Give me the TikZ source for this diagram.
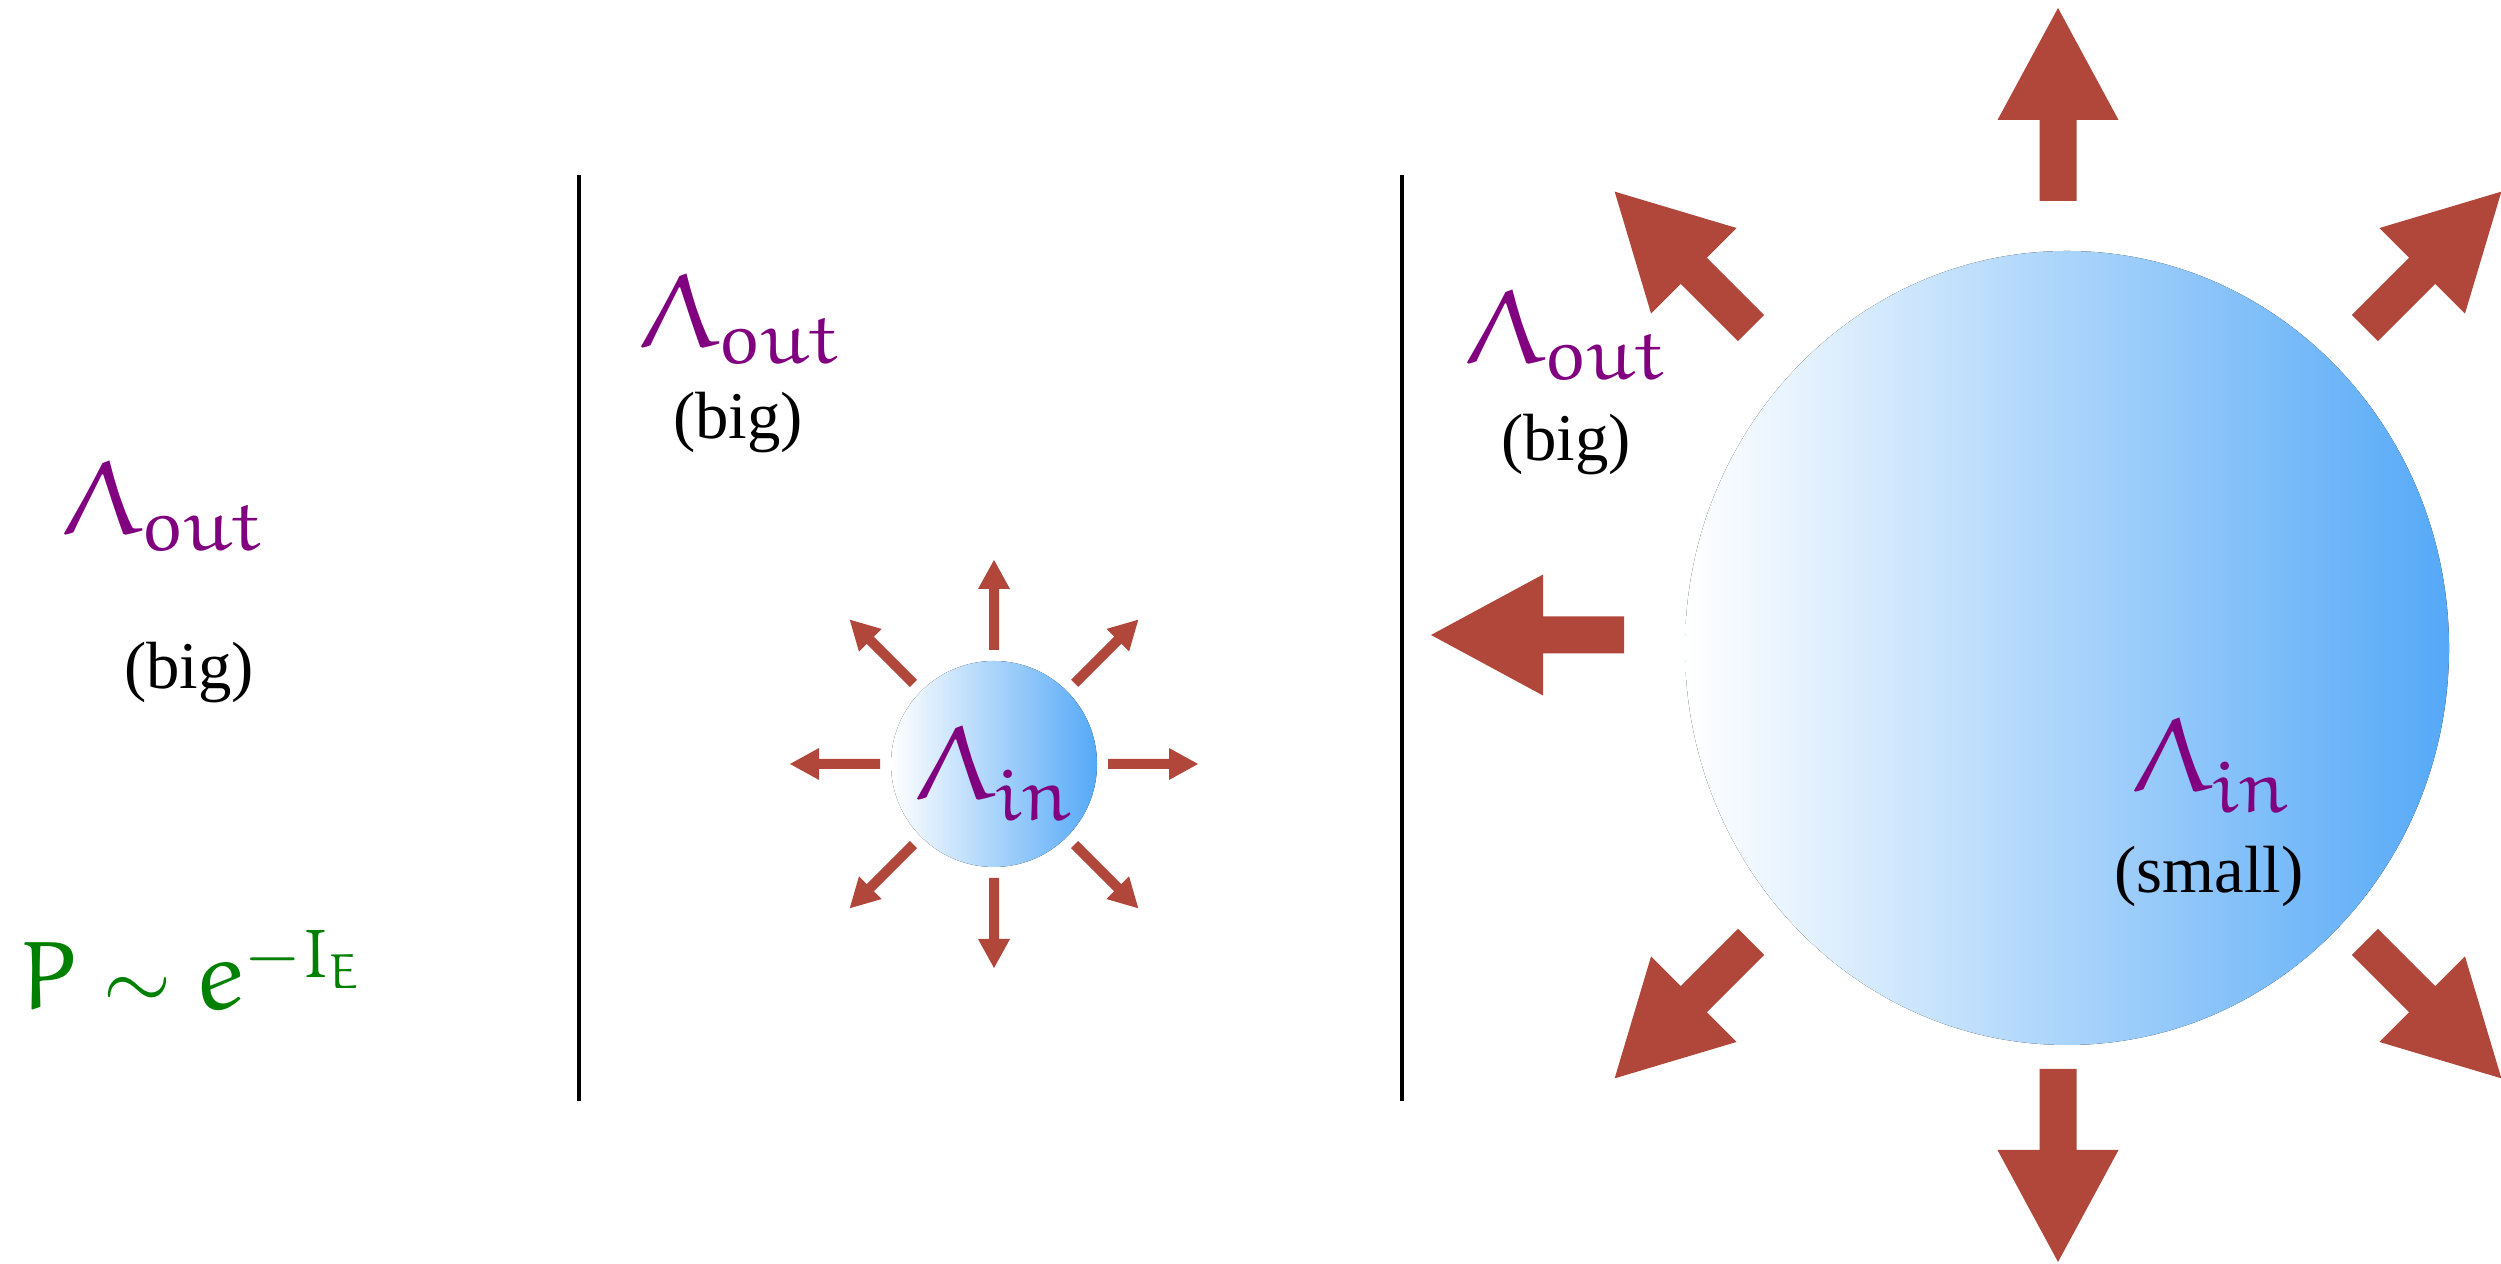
\documentclass[tikz,border=0pt]{standalone}
\usepackage[no-math]{fontspec}
\setmainfont{Liberation Serif}
\usepackage{tikz}
\DeclareFontFamily{U}{eulr}{}
\DeclareFontShape{U}{eulr}{m}{n}{<-> eurm10}{}
\DeclareMathAlphabet{\mathe}{U}{eulr}{m}{n}
\definecolor{lamcol}{HTML}{800080}
\definecolor{probcol}{HTML}{008000}
\definecolor{raycol}{HTML}{B0473A}
\definecolor{bubcol}{HTML}{55A9F7}
\tikzset{
  lamlab/.style={text=lamcol,inner sep=0pt,font=\fontsize{30}{36}\selectfont},
  notelab/.style={inner sep=0pt,font=\fontsize{19}{23}\selectfont},
  problab/.style={text=probcol,inner sep=0pt,font=\fontsize{28}{34}\selectfont},
  wall/.style={draw=black,line width=1.2pt},
  bubble/.style={left color=white,right color=bubcol,draw=none},
  ray/.style={fill=raycol,draw=none},
}
\begin{document}
\begin{tikzpicture}[x=0.1mm,y=0.1mm]
  \useasboundingbox (0,0) rectangle (2501,1264);
  \draw[wall] (579,163) -- (579,1089);
  \draw[wall] (1402,163) -- (1402,1089);
  \node[lamlab] (outL) at (163,758) {$\mathe{\Lambda_{out}}$};
  \node[notelab] (bigL) at (189,591) {(big)};
  \node[problab] (prob) at (191,294) {$\mathe{P}\sim\mathe{e}^{-\mathe{I_E}}$};
  \node[lamlab] (outM) at (740,945) {$\mathe{\Lambda_{out}}$};
  \node[notelab] (bigM) at (738,841) {(big)};
  \fill[bubble] (994,500) circle (103);
  \begin{scope}[shift={(994,500)}]
    \foreach \a in {0,45,...,315}
      \fill[ray,rotate=\a] (114,-5) -- (175,-5) -- (175,-16) -- (204,0) -- (175,16) -- (175,5) -- (114,5) -- cycle;
  \end{scope}
  \node[lamlab] (inM) at (994,490) {$\mathe{\Lambda_{in}}$};
  \node[lamlab] (outR) at (1566,929) {$\mathe{\Lambda_{out}}$};
  \node[notelab] (bigR) at (1566,819) {(big)};
  \fill[bubble] (2067,616) ellipse (382 and 397);
  \begin{scope}[shift={(2058,629)}]
    \foreach \a in {45,90,...,315}
      \fill[ray,rotate=\a] (434,-18.5) -- (515,-18.5) -- (515,-60.5) -- (627,0) -- (515,60.5) -- (515,18.5) -- (434,18.5) -- cycle;
  \end{scope}
  \node[lamlab] (inR) at (2211,498) {$\mathe{\Lambda_{in}}$};
  \node[notelab] (smallR) at (2209,388) {(small)};
\end{tikzpicture}
\end{document}
